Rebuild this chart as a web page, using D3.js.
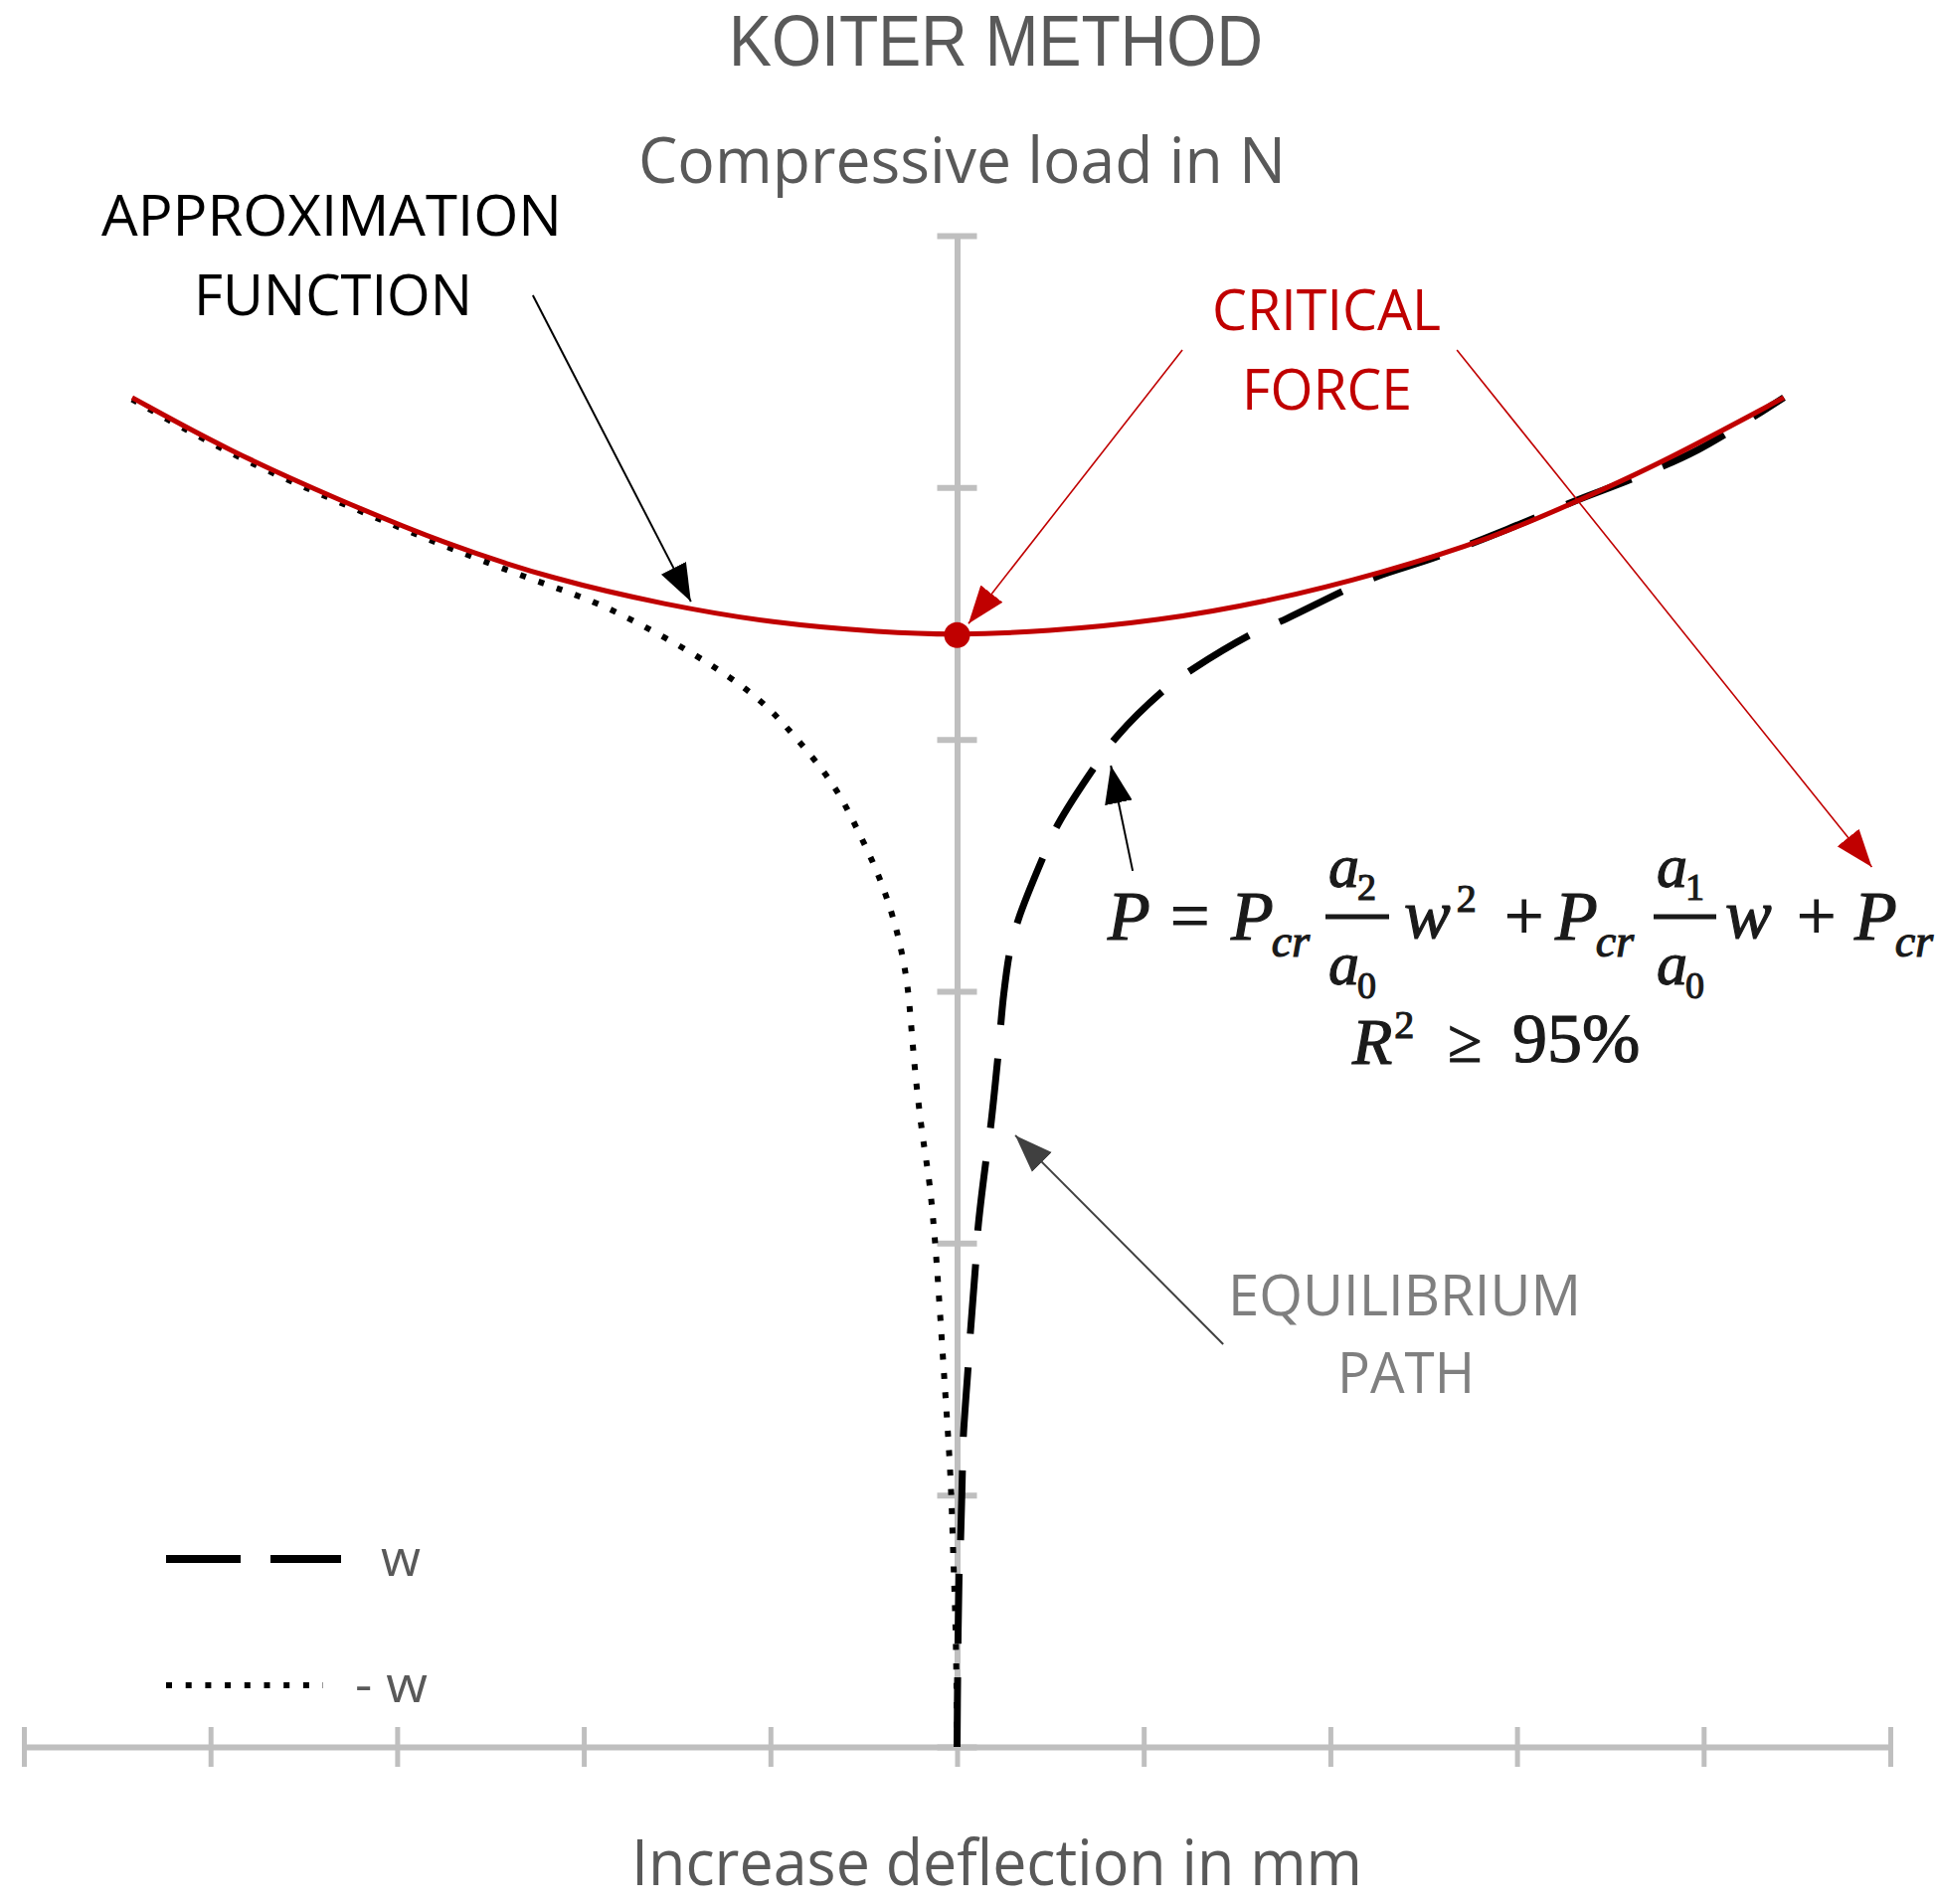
<!DOCTYPE html>
<html>
<head>
<meta charset="utf-8">
<script src="https://cdn.jsdelivr.net/npm/d3@7"></script>
<style>
  html, body { margin: 0; padding: 0; background: #fff; }
  svg { display: block; }
</style>
</head>
<body>
<div id="chart"></div>
<script>
// ===========================
// Koiter method – approximation of the equilibrium path
// ===========================

// ── Data (deflection w in mm, load P in N) ──────────────────────────────────
const xTicks = [-5, -4, -3, -2, -1, 0, 1, 2, 3, 4, 5];
const yTicks = [0, 1, 2, 3, 4, 5, 6];

const criticalForce = 4.414;

// red parabola P(w)
const approximationFn = [
    [-4.42, 5.357], [-3.907, 5.148], [-3.326, 4.955], [-2.740, 4.775],
    [-2.153, 4.634], [-1.567, 4.535], [-0.986, 4.461], [-0.400, 4.425],
    [0, 4.414], [0.474, 4.428], [1.077, 4.470], [1.674, 4.548],
    [2.271, 4.660], [2.873, 4.800], [3.321, 4.945], [3.769, 5.095],
    [4.430, 5.357]
];

// dashed series "w"
const pathW = [
    [0, 0], [0.003, 0.272], [0.011, 0.691], [0.019, 0.825], [0.029, 1.109],
    [0.034, 1.236], [0.060, 1.516], [0.072, 1.650], [0.100, 1.922],
    [0.112, 2.057], [0.155, 2.329], [0.180, 2.463], [0.220, 2.747],
    [0.250, 2.988], [0.285, 3.166], [0.328, 3.284], [0.466, 3.541],
    [0.541, 3.663], [0.749, 3.904], [0.856, 4.011], [1.122, 4.204],
    [1.271, 4.283], [1.586, 4.421], [1.767, 4.480], [2.098, 4.599],
    [2.263, 4.650], [2.570, 4.725], [2.950, 4.835], [3.323, 4.950],
    [3.620, 5.035], [3.970, 5.150], [4.430, 5.357]
];

// dotted series "- w"
const pathMinusW = [
    [0, 0], [-0.005, 0.450], [-0.021, 0.758], [-0.032, 1.058], [-0.059, 1.358],
    [-0.085, 1.650], [-0.112, 1.962], [-0.146, 2.250], [-0.184, 2.408],
    [-0.229, 2.696], [-0.255, 2.960], [-0.275, 3.075], [-0.314, 3.221],
    [-0.373, 3.368], [-0.442, 3.502], [-0.533, 3.640], [-0.618, 3.770],
    [-0.736, 3.897], [-0.869, 4.011], [-1.002, 4.122], [-1.162, 4.220],
    [-1.407, 4.339], [-1.684, 4.453], [-1.951, 4.552], [-2.244, 4.625],
    [-2.740, 4.765], [-3.326, 4.945], [-3.907, 5.135], [-4.420, 5.350]
];

const legendLabels = ['w', '- w'];

// ── Layout ──────────────────────────────────────────────────────────────────
const W = 1948, H = 1915;
const AXIS_GREY = '#bfbfbf';
const TEXT_GREY = '#595959';
const RED = '#c00000';
const FONT = '"Open Sans", "Liberation Sans", sans-serif';
const MATH_FONT = '"Liberation Serif", "DejaVu Serif", serif';

const svg = d3.select('#chart').append('svg')
    .attr('width', W)
    .attr('height', H);

svg.append('rect').attr('width', W).attr('height', H).attr('fill', '#fff');

const x = d3.scaleLinear().domain([-5, 5]).range([24, 1901]);
const y = d3.scaleLinear().domain([0, 6]).range([1757, 237]);

// ── Arrow markers ───────────────────────────────────────────────────────────
const defs = svg.append('defs');
[['arrow-black', '#000'], ['arrow-red', RED], ['arrow-grey', '#404040']].forEach(([id, col]) => {
    defs.append('marker')
        .attr('id', id)
        .attr('markerUnits', 'userSpaceOnUse')
        .attr('viewBox', '0 -16 40 32')
        .attr('refX', 38)
        .attr('refY', 0)
        .attr('markerWidth', 40)
        .attr('markerHeight', 32)
        .attr('orient', 'auto')
        .append('path')
        .attr('d', 'M0,-14L38,0L0,14Z')
        .attr('fill', col);
});

// ── Axes ────────────────────────────────────────────────────────────────────
const xAxis = svg.append('g')
    .attr('transform', `translate(0,${y(0)})`)
    .call(d3.axisBottom(x).tickValues(xTicks).tickSize(20).tickSizeOuter(0).tickFormat(''));
xAxis.select('.domain').attr('stroke', AXIS_GREY).attr('stroke-width', 6);
xAxis.selectAll('.tick line')
    .attr('y1', -20).attr('y2', 20)
    .attr('stroke', AXIS_GREY).attr('stroke-width', 5);

const yAxis = svg.append('g')
    .attr('transform', `translate(${x(0)},0)`)
    .call(d3.axisLeft(y).tickValues(yTicks).tickSize(20).tickSizeOuter(0).tickFormat(''));
yAxis.select('.domain').attr('stroke', AXIS_GREY).attr('stroke-width', 6);
yAxis.selectAll('.tick line')
    .attr('x1', -20).attr('x2', 20)
    .attr('stroke', AXIS_GREY).attr('stroke-width', 6);

// ── Titles ──────────────────────────────────────────────────────────────────
function label(txt, px, py, size, fill, len, family) {
    return svg.append('text')
        .attr('x', px).attr('y', py)
        .attr('font-family', family || FONT)
        .attr('font-size', size)
        .attr('fill', fill)
        .attr('textLength', len)
        .attr('lengthAdjust', 'spacingAndGlyphs')
        .text(txt);
}

label('KOITER METHOD', 733, 66, 72, TEXT_GREY, 537, '"Liberation Sans", Arial, sans-serif');
label('Compressive load in N', 642, 184, 64, TEXT_GREY, 651);
label('Increase deflection in mm', 635, 1896, 64, TEXT_GREY, 735);

// ── Series ──────────────────────────────────────────────────────────────────
const smoothLine = d3.line()
    .x(d => x(d[0]))
    .y(d => y(d[1]))
    .curve(d3.curveBasis);

const throughLine = d3.line()
    .x(d => x(d[0]))
    .y(d => y(d[1]))
    .curve(d3.curveCatmullRom.alpha(0.5));

svg.append('path')
    .datum(pathMinusW)
    .attr('d', smoothLine)
    .attr('fill', 'none')
    .attr('stroke', '#000')
    .attr('stroke-width', 6)
    .attr('stroke-dasharray', '6,13.5');

svg.append('path')
    .datum(pathW)
    .attr('d', throughLine)
    .attr('fill', 'none')
    .attr('stroke', '#000')
    .attr('stroke-width', 7)
    .attr('stroke-dasharray', '70,34');

svg.append('path')
    .datum(approximationFn)
    .attr('d', smoothLine)
    .attr('fill', 'none')
    .attr('stroke', RED)
    .attr('stroke-width', 5);

svg.append('circle')
    .attr('cx', x(0))
    .attr('cy', y(criticalForce))
    .attr('r', 13)
    .attr('fill', RED);

// ── Annotations ─────────────────────────────────────────────────────────────
label('APPROXIMATION', 102, 237, 56, '#000', 463);
label('FUNCTION', 195, 317, 56, '#000', 280);
label('CRITICAL', 1219, 332, 56, RED, 230);
label('FORCE', 1249, 412, 56, RED, 171);
label('EQUILIBRIUM', 1235, 1323, 56, '#7f7f7f', 355);
label('PATH', 1345, 1401, 56, '#7f7f7f', 138);

// arrows: [from, to] in data units
const arrows = [
    { from: [-2.273, 5.763], to: [-1.426, 4.547], color: '#000', marker: 'arrow-black', w: 2 },
    { from: [1.207, 5.546], to: [0.061, 4.460], color: RED, marker: 'arrow-red', w: 1.6 },
    { from: [2.678, 5.546], to: [4.901, 3.493], color: RED, marker: 'arrow-red', w: 1.6 },
    { from: [0.941, 3.478], to: [0.824, 3.896], color: '#000', marker: 'arrow-black', w: 2 },
    { from: [1.426, 1.599], to: [0.312, 2.428], color: '#404040', marker: 'arrow-grey', w: 2 }
];

svg.selectAll('.arrow')
    .data(arrows)
    .join('line')
    .attr('class', 'arrow')
    .attr('x1', d => x(d.from[0])).attr('y1', d => y(d.from[1]))
    .attr('x2', d => x(d.to[0])).attr('y2', d => y(d.to[1]))
    .attr('stroke', d => d.color)
    .attr('stroke-width', d => d.w)
    .attr('marker-end', d => `url(#${d.marker})`);

// ── Equation ────────────────────────────────────────────────────────────────
// each piece: main glyphs + optional sub/superscript as a tspan
const EQ = '#1a1a1a';
const eqParts = [
    { t: 'P', x: 1114, y: 945, s: 70, i: true },
    { t: '=', x: 1177, y: 945, s: 70 },
    { t: 'P', x: 1238, y: 945, s: 70, i: true, sub: 'cr', ss: 46, dy: 17 },
    { t: 'a', x: 1336, y: 892, s: 62, i: true, sub: '2', ss: 38, dy: 13 },
    { t: 'a', x: 1336, y: 990, s: 62, i: true, sub: '0', ss: 38, dy: 14 },
    { t: 'w', x: 1412, y: 943, s: 70, i: true, sub: '2', ss: 40, dy: -26, gap: 6 },
    { t: '+', x: 1513, y: 945, s: 70 },
    { t: 'P', x: 1564, y: 945, s: 70, i: true, sub: 'cr', ss: 46, dy: 17 },
    { t: 'a', x: 1666, y: 892, s: 62, i: true, sub: '1', ss: 38, dy: 13 },
    { t: 'a', x: 1666, y: 990, s: 62, i: true, sub: '0', ss: 38, dy: 14 },
    { t: 'w', x: 1735, y: 943, s: 70, i: true },
    { t: '+', x: 1807, y: 945, s: 70 },
    { t: 'P', x: 1865, y: 945, s: 70, i: true, sub: 'cr', ss: 46, dy: 17 },
    { t: 'R', x: 1360, y: 1070, s: 66, i: true, sub: '2', ss: 40, dy: -26, gap: 2 },
    { t: '≥', x: 1456, y: 1068, s: 62 },
    { t: '95%', x: 1521, y: 1068, s: 70 }
];

const eq = svg.selectAll('.eq')
    .data(eqParts)
    .join('text')
    .attr('class', 'eq')
    .attr('x', d => d.x).attr('y', d => d.y)
    .attr('font-family', MATH_FONT)
    .attr('font-size', d => d.s)
    .attr('fill', EQ)
    .attr('stroke', EQ)
    .attr('stroke-width', 1.2);

eq.append('tspan')
    .attr('font-style', d => d.i ? 'italic' : 'normal')
    .text(d => d.t);

eq.filter(d => d.sub)
    .append('tspan')
    .attr('dx', d => d.gap || -2)
    .attr('dy', d => d.dy)
    .attr('font-size', d => d.ss)
    .attr('font-style', d => /[a-z]/.test(d.sub) ? 'italic' : 'normal')
    .text(d => d.sub);

[[1333, 1397], [1663, 1726]].forEach(([a, b]) => {
    svg.append('line')
        .attr('x1', a).attr('x2', b)
        .attr('y1', 922).attr('y2', 922)
        .attr('stroke', EQ).attr('stroke-width', 5);
});

// ── Legend ──────────────────────────────────────────────────────────────────
const legend = [
    { label: legendLabels[0], dash: '75,30', width: 8, y: 1568, x2: 343, tx: 383, ty: 1585, len: 40 },
    { label: legendLabels[1], dash: '6,13.7', width: 6, y: 1695, x2: 325, tx: 357, ty: 1712, len: 73 }
];

legend.forEach(d => {
    svg.append('line')
        .attr('x1', 167).attr('x2', d.x2)
        .attr('y1', d.y).attr('y2', d.y)
        .attr('stroke', '#000')
        .attr('stroke-width', d.width)
        .attr('stroke-dasharray', d.dash);
    label(d.label, d.tx, d.ty, 52, TEXT_GREY, d.len);
});
</script>
</body>
</html>
